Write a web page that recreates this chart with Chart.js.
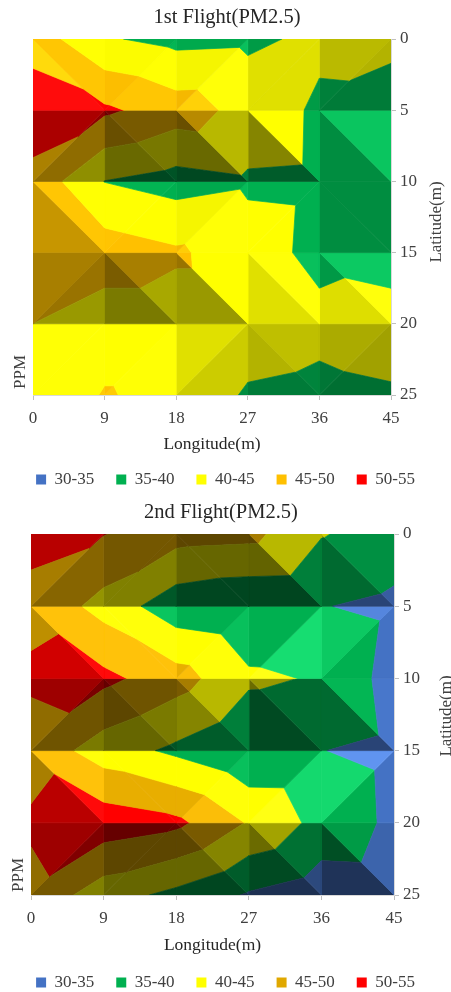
<!DOCTYPE html>
<html>
<head>
<meta charset="utf-8">
<title>PM2.5 flights</title>
<script src="https://cdn.jsdelivr.net/npm/chart.js@4/dist/chart.umd.min.js"></script>
<style>
html, body { margin: 0; width: 451px; height: 992px; overflow: hidden; background: #fff; }
canvas { position: absolute; left: 0; }
</style>
</head>
<body>
<canvas id="flight1" width="451" height="498" style="top:0"></canvas>
<canvas id="flight2" width="451" height="506" style="top:495px"></canvas>
<script>
const longitudes = [0, 9, 18, 27, 36, 45];
const latitudes = [0, 5, 10, 15, 20, 25];
const bandLabels = ["30-35", "35-40", "40-45", "45-50", "50-55"];
const bandEdges = [30, 35, 40, 45, 50, 55];

// ppm at each grid node, one row per latitude
const flight1Values = [
    [47.9, 40.5, 38.6, 39.0, 41.1, 41.3],
    [53.0, 50.9, 47.5, 43.3, 39.1, 37.5],
    [48.5, 39.9, 38.0, 39.3, 39.0, 37.0],
    [47.5, 47.7, 45.8, 42.0, 38.8, 37.8],
    [45.0, 42.3, 42.3, 42.3, 41.2, 42.2],
    [40.5, 45.4, 43.3, 39.5, 38.9, 39.5]
];
const flight2Values = [
    [50.8, 50.2, 47.0, 46.5, 40.3, 37.8],
    [49.2, 43.2, 37.0, 35.5, 35.2, 33.9],
    [50.5, 51.3, 47.2, 40.9, 39.55, 33.0],
    [48.6, 42.5, 39.0, 35.3, 35.1, 33.8],
    [50.5, 53.0, 51.2, 44.6, 38.3, 34.0],
    [49.0, 42.2, 38.7, 34.5, 32.0, 32.3]
];
// how each cell is split: 1 = top left to bottom right, 0 = bottom left to top right
const flight1Splits = [
    [1, 0, 0, 0, 0],
    [0, 1, 1, 1, 1],
    [1, 0, 0, 0, 1],
    [0, 1, 1, 1, 1],
    [0, 0, 0, 1, 0]
];
const flight2Splits = [
    [0, 0, 1, 1, 1],
    [1, 1, 0, 0, 0],
    [0, 1, 1, 1, 1],
    [1, 1, 0, 0, 0],
    [0, 0, 1, 1, 1]
];
// light on each facet, [upper triangle, lower triangle] per cell
const flight1Shades = [
    [[1.03, 1.12], [0.99, 1.03], [0.96, 1.08], [0.88, 0.88], [0.73, 0.7]],
    [[0.67, 0.56], [0.47, 0.41], [0.72, 0.41], [1.0, 0.52], [1.1, 0.8]],
    [[1.03, 0.78], [1.02, 1.0], [0.96, 1.06], [1.0, 1.0], [0.8, 0.8]],
    [[0.66, 0.6], [0.66, 0.48], [1.0, 0.6], [1.08, 0.88], [1.12, 0.87]],
    [[1.05, 1.05], [1.0, 1.05], [0.88, 0.8], [0.75, 0.7], [0.67, 0.63]]
];
const flight2Shades = [
    [[0.72, 0.58], [0.5, 0.5], [0.4, 0.4], [0.72, 0.39], [0.82, 0.6]],
    [[1.1, 0.82], [1.1, 1.1], [1.0, 1.08], [1.0, 1.22], [1.12, 1.0]],
    [[0.62, 0.48], [0.48, 0.4], [0.72, 0.52], [0.6, 0.42], [1.03, 0.6]],
    [[1.1, 0.73], [1.0, 1.0], [1.0, 1.08], [1.0, 1.2], [1.2, 1.0]],
    [[0.62, 0.5], [0.4, 0.4], [0.52, 0.4], [0.64, 0.42], [0.88, 0.45]]
];

const flight1Bands = [[0x44, 0x72, 0xc4], [0x00, 0xb0, 0x50], [0xff, 0xff, 0x00], [0xff, 0xc0, 0x00], [0xff, 0x00, 0x00]];
const flight2Bands = [[0x44, 0x72, 0xc4], [0x00, 0xb0, 0x50], [0xff, 0xff, 0x00], [0xe8, 0xae, 0x00], [0xff, 0x00, 0x00]];
const flight1Legend = ["#4472c4", "#00b050", "#ffff00", "#ffc000", "#ff0000"];
const flight2Legend = ["#4472c4", "#00b050", "#ffff00", "#e0a800", "#ff0000"];
const serif = "'Liberation Serif', 'Times New Roman', serif";

function shadeColor(rgb, s) {
    const c = rgb.map(v => Math.min(255, Math.round(s > 1 ? v + (s - 1) * (100 + v * 0.6) : v * s)));
    return `rgb(${c[0]}, ${c[1]}, ${c[2]})`;
}

function clipPolygon(poly, level, keepAbove) {
    const out = [];
    poly.forEach((p, i) => {
        const q = poly[(i + 1) % poly.length];
        const pIn = keepAbove ? p.v >= level : p.v <= level;
        const qIn = keepAbove ? q.v >= level : q.v <= level;
        if (pIn) out.push(p);
        if (pIn !== qIn) {
            const t = (level - p.v) / (q.v - p.v);
            out.push({ x: p.x + (q.x - p.x) * t, y: p.y + (q.y - p.y) * t, v: level });
        }
    });
    return out;
}

function triangleDatasets(tri, shade, bands, datasets) {
    bands.forEach((rgb, i) => {
        let poly = clipPolygon(tri, bandEdges[i], true);
        if (poly.length) poly = clipPolygon(poly, bandEdges[i + 1], false);
        if (poly.length < 3) return;
        const color = shadeColor(rgb, shade);
        datasets.push({
            data: poly.concat([poly[0]]).map(p => ({ x: p.x, y: p.y })),
            showLine: true,
            fill: "shape",
            backgroundColor: color,
            borderColor: color,
            borderWidth: 0.7,
            pointRadius: 0,
            tension: 0
        });
    });
}

function surfaceDatasets(values, splits, shades, bands) {
    const datasets = [];
    const node = (r, c) => ({ x: longitudes[c], y: latitudes[r], v: values[r][c] });
    for (let r = 0; r < latitudes.length - 1; r++) {
        for (let c = 0; c < longitudes.length - 1; c++) {
            const tl = node(r, c), tr = node(r, c + 1), bl = node(r + 1, c), br = node(r + 1, c + 1);
            const [upper, lower] = shades[r][c];
            if (splits[r][c]) {
                triangleDatasets([tl, tr, br], upper, bands, datasets);
                triangleDatasets([tl, bl, br], lower, bands, datasets);
            } else {
                triangleDatasets([tl, tr, bl], upper, bands, datasets);
                triangleDatasets([tr, bl, br], lower, bands, datasets);
            }
        }
    }
    return datasets;
}

const sideLabels = {
    id: "sideLabels",
    afterLayout(chart, args, opts) {
        chart.titleBlock.left += opts.titleShift;
        chart.titleBlock.right += opts.titleShift;
    },
    afterDraw(chart, args, opts) {
        const ctx = chart.ctx;
        ctx.save();
        ctx.fillStyle = "#404040";
        ctx.font = `17px ${serif}`;
        ctx.textAlign = "center";
        ctx.textBaseline = "middle";
        opts.items.forEach(item => {
            ctx.save();
            ctx.translate(item.x, item.y);
            ctx.rotate(-Math.PI / 2);
            ctx.fillText(item.text, 0, 0);
            ctx.restore();
        });
        ctx.restore();
    }
};

function renderFlight(canvasId, title, values, splits, shades, bands, legendColors, box) {
    const legendSets = bandLabels.map((label, i) => ({
        label,
        data: [],
        backgroundColor: legendColors[i],
        borderColor: legendColors[i],
        borderWidth: 0,
        pointRadius: 0
    }));

    new Chart(document.getElementById(canvasId), {
        type: "scatter",
        data: { datasets: legendSets.concat(surfaceDatasets(values, splits, shades, bands)) },
        plugins: [sideLabels],
        options: {
            responsive: false,
            animation: false,
            events: [],
            plugins: {
                title: {
                    display: true,
                    text: title,
                    color: "#262626",
                    font: { family: serif, size: 20.5, weight: "normal" },
                    padding: { top: 5, bottom: 9.4 }
                },
                legend: {
                    position: "bottom",
                    labels: {
                        filter: item => item.datasetIndex < 5,
                        boxWidth: 10,
                        boxHeight: 10,
                        padding: 22,
                        color: "#404040",
                        font: { family: serif, size: 17 }
                    }
                },
                tooltip: { enabled: false },
                sideLabels: { items: box.labels, titleShift: box.titleShift }
            },
            scales: {
                x: {
                    type: "linear",
                    min: 0,
                    max: 45,
                    afterFit: scale => { scale.height = box.xHeight; },
                    border: { color: "#d9d9d9" },
                    grid: { drawOnChartArea: false, tickLength: 5, tickColor: "#bfbfbf" },
                    ticks: {
                        stepSize: 9,
                        padding: 8,
                        maxRotation: 0,
                        color: "#404040",
                        font: { family: serif, size: 17 }
                    },
                    title: {
                        display: true,
                        text: "Longitude(m)",
                        color: "#262626",
                        font: { family: serif, size: 17.5 },
                        padding: { top: 0, bottom: box.titleNudge }
                    }
                },
                y: {
                    type: "linear",
                    position: "right",
                    reverse: true,
                    min: 0,
                    max: 25,
                    afterFit: scale => { scale.width = box.yWidth; },
                    border: { color: "#d9d9d9" },
                    grid: { drawOnChartArea: false, tickLength: 5, tickColor: "#bfbfbf" },
                    ticks: {
                        stepSize: 5,
                        padding: 4,
                        color: "#404040",
                        font: { family: serif, size: 17 }
                    }
                },
                // empty axis, only holds the space left of the plot
                leftGap: {
                    type: "linear",
                    position: "left",
                    afterFit: scale => { scale.width = box.left; },
                    border: { display: false },
                    grid: { display: false },
                    ticks: { display: false }
                }
            }
        }
    });
}

renderFlight("flight1", "1st Flight(PM2.5)", flight1Values, flight1Splits, flight1Shades, flight1Bands, flight1Legend, {
    left: 33, yWidth: 60, xHeight: 54, titleNudge: -6, titleShift: 1.5,
    labels: [{ text: "Latitude(m)", x: 437, y: 222 }, { text: "PPM", x: 21, y: 372 }]
});
renderFlight("flight2", "2nd Flight(PM2.5)", flight2Values, flight2Splits, flight2Shades, flight2Bands, flight2Legend, {
    left: 31, yWidth: 57, xHeight: 57, titleNudge: -4, titleShift: -4.5,
    labels: [{ text: "Latitude(m)", x: 447, y: 221 }, { text: "PPM", x: 19, y: 380 }]
});
</script>
</body>
</html>
